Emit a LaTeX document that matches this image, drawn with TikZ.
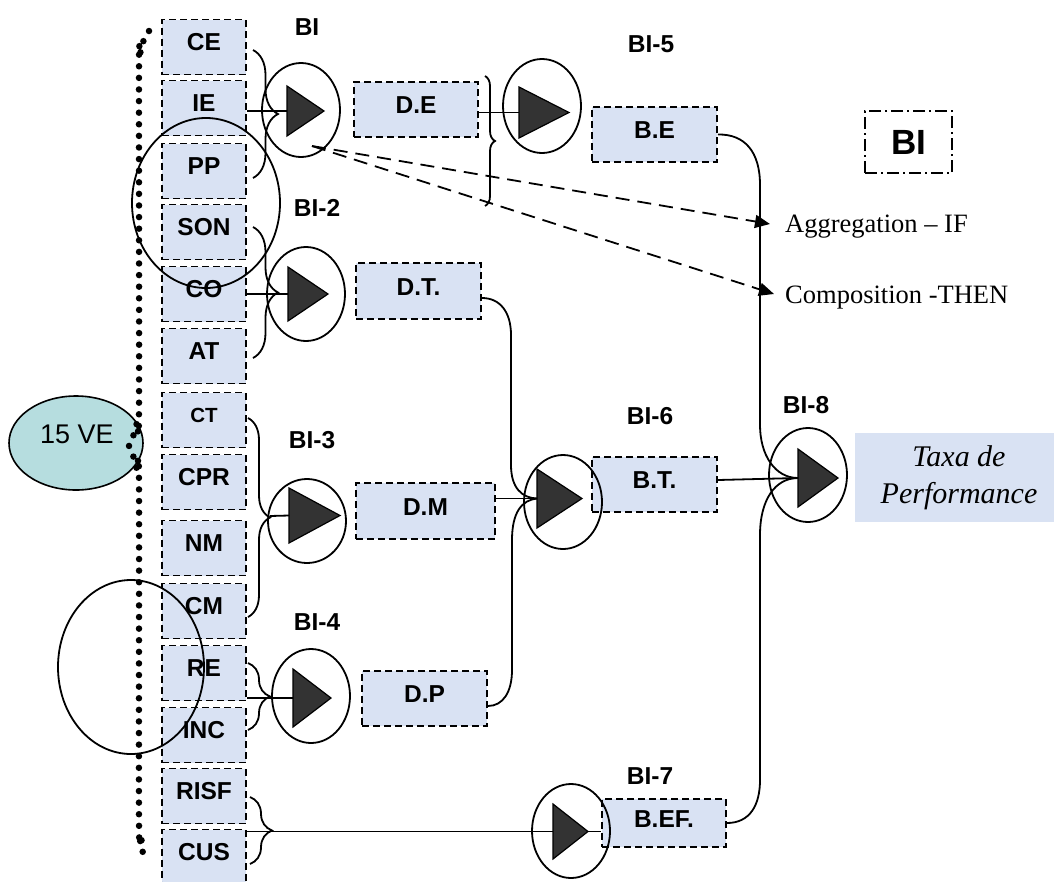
\documentclass[tikz,border=0pt]{standalone}
\usepackage{fontspec}
\setmainfont{Liberation Serif}
\setsansfont{Liberation Sans}
\usetikzlibrary{arrows.meta,decorations.pathreplacing,shapes.geometric}

\definecolor{boxblue}{RGB}{217,226,243}
\definecolor{veteal}{RGB}{182,221,223}
\definecolor{trigray}{RGB}{51,51,51}

\tikzset{
  leafbox/.style={draw, line width=1.9pt, dash pattern=on 7pt off 4pt, fill=boxblue,
    minimum width=84pt, minimum height=55pt, inner sep=0pt},
  midbox/.style={draw, line width=1.9pt, dash pattern=on 7pt off 4pt, fill=boxblue, inner sep=0pt},
  boxtext/.style={font=\sffamily\bfseries\fontsize{24.5}{28}\selectfont, inner sep=0pt},
  unitlabel/.style={font=\sffamily\bfseries\fontsize{24.5}{28}\selectfont, inner sep=0pt},
  ring/.style={draw, ellipse, line width=1.8pt, inner sep=0pt},
  trifill/.style={fill=trigray, draw=black, line width=1.2pt},
  wire/.style={line width=1.8pt},
  bracket/.style={decorate, decoration={brace, amplitude=#1}, line width=1.8pt},
  rulearrow/.style={line width=1.8pt, dash pattern=on 14pt off 8pt,
    -{Triangle[length=15pt,width=13pt]}},
  caption/.style={anchor=base west, inner sep=0pt, font=\fontsize{26.5}{30}\selectfont},
}

% input variable box of the left column: name, centre y, text
\newcommand\leaf[3]{%
  \node[leafbox] (#1) at (204,#2) {};
  \node[boxtext] at ([yshift=5pt]#1.center) {#3};}
% intermediate box: name, centre x, centre y, width, height, text
\newcommand\midleaf[6]{%
  \node[midbox, minimum width=#4pt, minimum height=#5pt] (#1) at (#2,#3) {};
  \node[boxtext] at ([yshift=4pt]#1.center) {#6};}
% rule block: name, centre x, centre y, triangle left x, top y, bottom y, tip x, ring height
\newcommand\bunit[8]{%
  \node[ring, minimum width=78pt, minimum height=#8pt] (#1) at (#2,#3) {};
  \filldraw[trifill] (#4,#5) -- (#7,{(#5+#6)/2}) -- (#4,#6) -- cycle;
  \coordinate (#1in) at (#4,{(#5+#6)/2});
  \coordinate (#1out) at (#7,{(#5+#6)/2});}

\begin{document}
\begin{tikzpicture}[x=1pt,y=-1pt]
\useasboundingbox (0,0) rectangle (1054,881);
\clip (0,0) rectangle (1054,881);

% the 15 input variables
\node[draw, ellipse, fill=veteal, line width=1.6pt, minimum width=134pt, minimum height=94pt] (ve) at (76,443) {};
\node[inner sep=0pt, font=\sffamily\fontsize{27}{30}\selectfont] at (77,434) {15 VE};

\draw[line width=6.5pt, line cap=round, dash pattern=on 0pt off 11.6pt]
  plot[smooth] coordinates {(149,31) (143,42) (140,55) (139,70) (139,410) (137,422)
    (134,434) (129,446) (134,458) (137,470) (139,482) (139,820) (141,835) (143,855)};

\leaf{CE}{47}{CE}
\leaf{IE}{108}{IE}
\leaf{PP}{171}{PP}
\leaf{SON}{232}{SON}
\leaf{CO}{294}{CO}
\leaf{AT}{356}{AT}
\leaf{CT}{420}{\fontsize{20.5}{24}\selectfont CT}
\leaf{CPR}{482}{CPR}
\leaf{NM}{548}{NM}
\leaf{CM}{611}{CM}
\leaf{RE}{673}{RE}
\leaf{INC}{735}{INC}
\leaf{RISF}{796}{RISF}
\leaf{CUS}{857}{CUS}

% intermediate results
\midleaf{DE}{416}{109.5}{124}{55}{D.E}
\midleaf{BE}{654.5}{134.5}{125}{55}{B.E}
\midleaf{DT}{418.5}{291}{125}{56}{D.T.}
\midleaf{DM}{425.5}{511}{139}{56}{D.M}
\midleaf{DP}{424.5}{698.5}{125}{55}{D.P}
\midleaf{BT}{654.5}{484.5}{125}{55}{B.T.}
\midleaf{BEF}{664}{823}{124}{48}{B.EF.}

% output
\node[fill=boxblue, minimum width=199pt, minimum height=89pt, inner sep=0pt] (taxa) at (954.5,477.5) {};
\node[inner sep=0pt, align=center, font=\itshape\fontsize{30}{37}\selectfont] at (959,478) {Taxa de\\Performance};

% legend
\node[draw, line width=1.7pt, dash pattern=on 12pt off 4pt on 2pt off 4pt, minimum width=87pt,
  minimum height=62pt, inner sep=0pt, font=\sffamily\bfseries\fontsize{35}{40}\selectfont] (legend) at (908.5,142) {BI};

% groupings of the inputs
\draw[bracket=25pt] (253,50) -- (253,178);
\draw[bracket=25pt] (253,227) -- (253,358);
\draw[bracket=22pt] (248,418) -- (248,617);
\draw[bracket=22pt] (248,663) -- (248,730);
\draw[bracket=22pt] (250,797) -- (250,864);
\draw[bracket=10pt] (485,76) -- (485,206);

% rule blocks
\bunit{U1}{301}{110}{287}{86}{136}{324}{94}
\bunit{U2}{306}{294}{288}{267}{321}{328}{94}
\bunit{U3}{307}{521}{289}{488}{543}{340}{84}
\bunit{U4}{311}{696}{293}{669}{727}{331}{94}
\bunit{U5}{542}{106}{519}{87}{138}{569}{94}
\bunit{U6}{563}{502}{537}{469}{528}{582}{94}
\bunit{U7}{571}{831}{553}{804}{859}{588}{94}
\bunit{U8}{808}{475}{798}{449}{507}{838}{94}

% straight feeds
\draw[wire] (IE.east |- U1in) -- (U1in);
\draw[wire] (CO.east |- U2in) -- (U2in);
\coordinate (b3tip) at (270,516);
\draw[wire] (b3tip) -- (U3in);
\draw[wire] (RE.east |- U4in) -- (U4in);
\draw[wire] (DE.east |- U5in) -- (U5in);
\draw[wire] (DM.east |- U6in) -- (U6in);
\draw[wire] (CUS.east |- U7in) -- (U7in);
\draw[wire] (U7out) -- (BEF.west |- U7out);
\draw[wire] ([yshift=4.5pt]BT.east) -- (U8in);

% curved feeds
\draw[wire] ([yshift=-7pt]DT.east) .. controls (500,298) and (511,312) .. (511,335)
  -- (511,465) .. controls (511,488) and (522,498) .. (U6in);
\draw[wire] ([yshift=-7.5pt]DP.east) .. controls (503,706) and (512,692) .. (512,670)
  -- (512,540) .. controls (512,512) and (522,500) .. (U6in);
\draw[wire] (BE.east) .. controls (745,134) and (760,152) .. (760,185)
  -- (760,425) .. controls (760,455) and (775,478) .. (U8in);
\draw[wire] (BEF.east) .. controls (750,823) and (760,805) .. (760,780)
  -- (760,535) .. controls (760,500) and (775,478) .. (U8in);

% overlapping groups
\node[ring, minimum width=148pt, minimum height=170pt] (g1) at (206,203) {};
\node[ring, minimum width=146pt, minimum height=174pt] (g2) at (131,667) {};

% block labels
\node[unitlabel] at (307,27) {BI};
\node[unitlabel] at (651,44) {BI-5};
\node[unitlabel] at (317,208) {BI-2};
\node[unitlabel] at (312,440) {BI-3};
\node[unitlabel] at (317,622) {BI-4};
\node[unitlabel] at (650,416) {BI-6};
\node[unitlabel] at (650,776) {BI-7};
\node[unitlabel] at (806,405) {BI-8};

% rule legend
\node[caption] (agg) at (785,232) {Aggregation – IF};
\node[caption] (comp) at (785,303) {Composition -THEN};
\coordinate (dsrc) at (312,146);
\coordinate (aggtip) at (770,224);
\coordinate (comptip) at (774,294);
\draw[rulearrow] (dsrc) -- (aggtip);
\draw[rulearrow] (dsrc) -- (comptip);
\end{tikzpicture}
\end{document}
